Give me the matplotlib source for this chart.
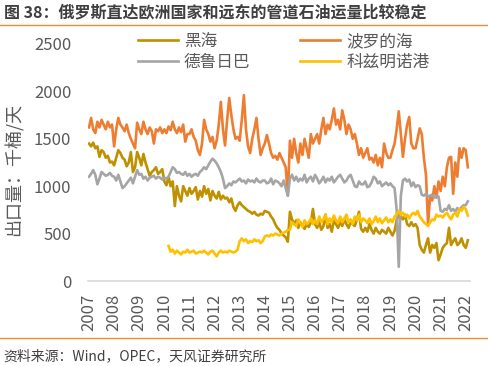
import numpy as np
import matplotlib
matplotlib.use("Agg")
import matplotlib.pyplot as plt
from matplotlib.lines import Line2D

plt.rcParams['font.family'] = ['Noto Sans CJK SC', 'DejaVu Sans']

# 月度数据（千桶/天），2007-01 起
black_sea = [
    1450, 1420, 1460, 1400, 1420, 1310, 1380, 1360, 1300, 1320, 1250, 1260,  # 2007
    1220, 1300, 1380, 1350, 1300, 1280, 1210, 1250, 1360, 1150, 1200, 1360,  # 2008
    1300, 1220, 1340, 1250, 1180, 1110, 1150, 1170, 1200, 1130, 1150, 1180,  # 2009
    1050, 1010, 1100, 1000, 1050, 790, 1000, 900, 840, 1000, 950, 900,       # 2010
    980, 920, 950, 990, 860, 950, 890, 1000, 920, 970, 850, 950,             # 2011
    900, 870, 940, 860, 900, 870, 880, 830, 870, 780, 740, 800,              # 2012
    830, 800, 780, 760, 740, 730, 710, 730, 700, 690, 710, 700,              # 2013
    740, 730, 720, 680, 650, 600, 560, 540, 500, 480, 460, 415,              # 2014
    730, 650, 600, 640, 560, 620, 580, 550, 600, 570, 620, 760,              # 2015
    600, 560, 620, 540, 580, 700, 560, 600, 520, 640, 600, 560,              # 2016
    620, 580, 650, 600, 560, 620, 600, 580, 650, 730, 550, 520,              # 2017
    560, 520, 600, 540, 500, 560, 520, 500, 540, 520, 500, 560,              # 2018
    520, 480, 530, 640, 700, 680, 650, 700, 600, 580, 620, 580,              # 2019
    600, 560, 380, 330, 300, 380, 450, 300, 380, 350, 400, 220,              # 2020
    280, 350, 380, 400, 560, 380, 420, 450, 380, 400, 450, 380,              # 2021
    350, 430,                                                                # 2022
]
baltic = [
    1620, 1720, 1600, 1560, 1680, 1620, 1700, 1650, 1600, 1680, 1620, 1650,
    1420, 1600, 1720, 1650, 1620, 1580, 1650, 1560, 1500, 1450, 1400, 1670,
    1600, 1550, 1680, 1600, 1550, 1620, 1580, 1450, 1600, 1580, 1620, 1560,
    1600, 1560, 1630, 1590, 1680, 1600, 1560, 1620, 1570, 1650, 1470, 1550,
    1550, 1600, 1520, 1480, 1380, 1330, 1450, 1700, 1600, 1550, 1470, 1520,
    1400, 1480, 1650, 1890, 1600, 1430, 1700, 1930, 1750, 1600, 1500, 1520,
    1480, 1700, 1960, 1600, 1420, 1350, 1500, 1600, 1720, 1500, 1330, 1400,
    1450, 1540, 1450, 1350, 1300, 1320, 1280, 1350, 1300, 1250, 1200, 900,
    1480, 1300, 1500, 1350, 1250, 1450, 1330, 1500, 1400, 1300, 1550, 1450,
    1500, 1550, 1450, 1600, 1720, 1550, 1650, 1600, 1700, 1820, 1650, 1700,
    1600, 1800, 1700, 1550, 1650, 1600, 1500, 1550, 1450, 1330, 1400, 1300,
    1350, 1400, 1280, 1300, 1250, 1330, 1220, 1300, 1200, 1450, 1350, 1300,
    1300, 1380, 1450, 1600, 1790, 1550, 1310, 1500, 1650, 1730, 1450, 1400,
    1400, 1500, 1610, 1550, 1300, 1120, 600, 900, 850, 1000, 880, 1050,
    950, 1100, 1000, 1200, 1300, 1310, 920, 1250, 1100, 1400, 1300, 1400,
    1380, 1200,
]
druzhba = [
    1100, 1130, 1170, 1120, 1020, 1080, 1150, 1130, 1110, 1120, 1140, 1110,
    1100, 1060, 1120, 1050, 980, 1000, 1030, 1060, 1090, 1030, 1100, 1170,
    1120, 1130, 1080, 1100, 1060, 1090, 1100, 1110, 1080, 1100, 1090, 1070,
    1090, 1080, 1100, 1150, 1200, 1180, 1140, 1150, 1130, 1120, 1150, 1110,
    1130, 1100, 1120, 1130, 1110, 1150, 1170, 1200, 1180, 1220, 1260, 1290,
    1270, 1240, 1200, 1150, 1080, 980, 1000, 1030, 1010, 1050, 1040, 1060,
    1080, 1050, 1060, 1030, 1070, 1050, 1060, 1040, 1080, 1050, 1040, 1060,
    1060, 1030, 1040, 1080, 1020, 1060, 1050, 1030, 1000, 1060, 980, 900,
    1080, 1120, 1060, 1100, 1050, 1080, 1060, 1120, 1040, 1080, 1100, 1050,
    1120, 1080, 1030, 1060, 1100, 1040, 1080, 1060, 1100, 1040, 1070, 1100,
    1120, 1080, 1040, 1060, 1100, 1120, 1060, 1000, 990, 1050, 1020, 1020,
    1050, 990, 1000, 1040, 1100, 1080, 1030, 1050, 1000, 1020, 1040, 1010,
    1030, 1000, 980, 750, 150, 900, 1060, 1080, 1050, 1070, 1000, 1040,
    990, 1010, 1000, 910, 900, 920, 890, 900, 910, 880, 900, 890,
    740, 730, 760, 750, 800, 740, 760, 730, 770, 750, 780, 800,
    800, 840,
]
# 科兹明诺港，2010-03 起
kozmino = [
    370, 310, 330, 290, 320, 300, 280, 310, 300, 330,
    300, 310, 320, 290, 300, 310, 300, 320, 300, 280, 310, 320,
    290, 260, 300, 320, 300, 310, 300, 320, 310, 300, 310, 330,
    420, 450, 420, 440, 400, 420, 410, 440, 420, 430, 400, 420,
    470, 480, 470, 490, 480, 500, 490, 480, 500, 510, 520, 540,
    540, 620, 600, 580, 650, 610, 570, 640, 600, 620, 660, 600,
    640, 600, 680, 620, 650, 700, 600, 660, 620, 690, 640, 610,
    680, 620, 660, 700, 620, 650, 600, 680, 640, 700, 620, 660,
    640, 610, 660, 600, 630, 680, 620, 660, 610, 640, 670, 620,
    650, 620, 680, 700, 740, 700, 720, 680, 700, 660, 700, 720,
    700, 740, 680, 650, 620, 600, 580, 620, 650, 640, 700, 680,
    690, 670, 700, 720, 680, 650, 700, 720, 680, 760, 740, 780,
    760, 690,
]
years = list(range(2007, 2023))

x_main = 2007 + np.arange(len(black_sea)) / 12
x_koz = 2010 + 2 / 12 + np.arange(len(kozmino)) / 12

fig = plt.figure(figsize=(4.89, 3.66), dpi=100)
ax = fig.add_axes([88 / 489, 1 - 281 / 366, 382 / 489, 237 / 366])

lw = 1.9
l1, = ax.plot(x_main, black_sea, color='#BF9000', lw=lw, label='黑海')
l2, = ax.plot(x_main, baltic, color='#ED7D31', lw=lw, label='波罗的海')
l3, = ax.plot(x_main, druzhba, color='#A5A5A5', lw=lw, label='德鲁日巴')
l4, = ax.plot(x_koz, kozmino, color='#FFC000', lw=lw, label='科兹明诺港')

ax.set_xlim(2006.96, 2022.17)
ax.set_ylim(0, 2500)
ax.set_yticks(range(0, 2501, 500))
ax.set_xticks(years)
ax.set_xticklabels([str(y) for y in years], rotation=90)
ax.tick_params(axis='both', length=0, labelsize=12, labelcolor='#595959')
ax.tick_params(axis='y', pad=12)
ax.tick_params(axis='x', pad=9)
for s in ['top', 'right', 'left']:
    ax.spines[s].set_visible(False)
ax.spines['bottom'].set_color('#D9D9D9')
ax.spines['bottom'].set_linewidth(1.2)

ax.set_ylabel('出口量：千桶/天', fontsize=13, color='#595959', labelpad=2)
ax.yaxis.set_label_coords(-64 / 382, 0.47)

ax.legend(handles=[l1, l3, l2, l4], ncol=2, loc='upper left',
          bbox_to_anchor=(138 / 489, 1 - 33 / 366), bbox_transform=fig.transFigure,
          frameon=False, fontsize=12, labelcolor='#595959', handlelength=2.4,
          handletextpad=0.35, columnspacing=3.0, labelspacing=0.25,
          borderpad=0, borderaxespad=0)

# 标题与来源
fig.text(4 / 489, 1 - 12 / 366, '图 38：俄罗斯直达欧洲国家和远东的管道石油运量比较稳定',
         fontsize=11.5, fontweight='bold', color='#3F3F3F', va='center', ha='left')
fig.add_artist(Line2D([0, 0.995], [1 - 25 / 366] * 2, color='#F08A2C', lw=1.0))
fig.add_artist(Line2D([0, 0.995], [1 - 338 / 366] * 2, color='#F08A2C', lw=1.0))
fig.text(3 / 489, 1 - 356 / 366, '资料来源：Wind，OPEC，天风证券研究所',
         fontsize=10, color='#404040', va='center', ha='left')

fig.savefig('out.png', dpi=100)
